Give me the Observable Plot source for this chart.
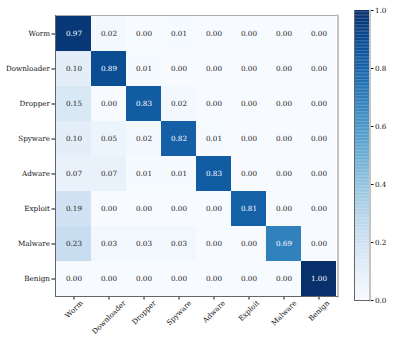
<!DOCTYPE html>
<html>
<head>
<meta charset="utf-8">
<script src="https://cdn.jsdelivr.net/npm/d3@7"></script>
<script src="https://cdn.jsdelivr.net/npm/@observablehq/plot@0.6"></script>
<style>
  html, body { margin: 0; padding: 0; background: white; }
  #wrap { position: relative; width: 415px; height: 346px; overflow: hidden; background: white; }
  #main, #bar { position: absolute; top: 0; }
  #main { left: 0; }
  #bar { left: 340px; }
</style>
</head>
<body>
<div id="wrap"><div id="main"></div><div id="bar"></div></div>
<script>
const labels = ["Worm", "Downloader", "Dropper", "Spyware", "Adware", "Exploit", "Malware", "Benign"];
const rowWorm       = [0.97, 0.02, 0.00, 0.01, 0.00, 0.00, 0.00, 0.00];
const rowDownloader = [0.10, 0.89, 0.01, 0.00, 0.00, 0.00, 0.00, 0.00];
const rowDropper    = [0.15, 0.00, 0.83, 0.02, 0.00, 0.00, 0.00, 0.00];
const rowSpyware    = [0.10, 0.05, 0.02, 0.82, 0.01, 0.00, 0.00, 0.00];
const rowAdware     = [0.07, 0.07, 0.01, 0.01, 0.83, 0.00, 0.00, 0.00];
const rowExploit    = [0.19, 0.00, 0.00, 0.00, 0.00, 0.81, 0.00, 0.00];
const rowMalware    = [0.23, 0.03, 0.03, 0.03, 0.00, 0.00, 0.69, 0.00];
const rowBenign     = [0.00, 0.00, 0.00, 0.00, 0.00, 0.00, 0.00, 1.00];
const colorbarTicks = [0, 0.2, 0.4, 0.6, 0.8, 1.0];

const rows = [rowWorm, rowDownloader, rowDropper, rowSpyware, rowAdware, rowExploit, rowMalware, rowBenign];
const cells = [];
rows.forEach((r, i) => r.forEach((v, j) => cells.push({actual: labels[i], predicted: labels[j], value: v})));

const font = "'DejaVu Serif', serif";
const fs = 7.2;
const colorOpts = {type: "linear", scheme: "blues", domain: [0, 1]};

// measure label widths so rotated labels are centred under their ticks (matplotlib style)
const ctx = document.createElement("canvas").getContext("2d");
ctx.font = `${fs}px ${font}`;
const rotLabel = (l) => {
  const w = ctx.measureText(l).width;
  const h = fs * 0.9;
  const dy = 3 + (w + h) * Math.SQRT1_2 / 2;
  return Plot.text([l], {x: d => d, frameAnchor: "bottom", dy, rotate: -45,
    textAnchor: "middle", lineAnchor: "middle", fill: "#111", fontSize: fs});
};

const spines = (top) => [
  ...(top ? [Plot.frame({anchor: "top", stroke: "#aaa", strokeWidth: 1})] : []),
  Plot.frame({anchor: "right", stroke: "#c4c4c4", strokeWidth: 2, dx: 0.5}),
  Plot.frame({anchor: "left", stroke: "#666", strokeWidth: 1}),
  Plot.frame({anchor: "bottom", stroke: "#666", strokeWidth: 1})
];

const main = Plot.plot({
  width: 340, height: 346,
  marginLeft: 55, marginRight: 3, marginTop: 15, marginBottom: 50,
  style: {fontFamily: font, fontSize: fs + "px", background: "white", color: "#111"},
  x: {domain: labels, padding: 0, label: null, tickSize: 3.5, tickFormat: () => ""},
  y: {domain: labels, padding: 0, label: null, tickSize: 3.5, tickPadding: 2},
  color: colorOpts,
  marks: [
    Plot.cell(cells, {x: "predicted", y: "actual", fill: "value", inset: 0}),
    Plot.text(cells, {x: "predicted", y: "actual", text: d => d.value.toFixed(2),
      fill: d => d.value > 0.5 ? "white" : "#1a1a1a", fontSize: fs}),
    ...spines(true),
    ...labels.map(rotLabel)
  ]
});
document.getElementById("main").appendChild(main);

const stops = d3.range(0, 1, 0.005);
const bar = Plot.plot({
  width: 75, height: 346,
  marginLeft: 14, marginRight: 46, marginTop: 10, marginBottom: 46,
  style: {fontFamily: font, fontSize: fs + "px", background: "white", color: "#111"},
  y: {domain: [0, 1], axis: "right", ticks: colorbarTicks, tickFormat: ".1f", label: null, tickSize: 3.5, tickPadding: 2},
  color: colorOpts,
  marks: [
    Plot.rect(stops, {y1: d => d, y2: d => Math.min(1, d + 0.0055), fill: d => d + 0.0025}),
    ...spines(false)
  ]
});
document.getElementById("bar").appendChild(bar);
</script>
</body>
</html>
